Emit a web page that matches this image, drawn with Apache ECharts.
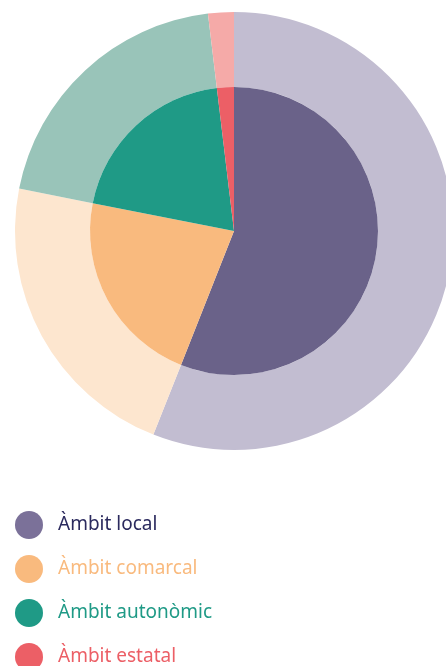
<!DOCTYPE html>
<html>
<head>
<meta charset="utf-8">
<script src="https://cdn.jsdelivr.net/npm/echarts@6/dist/echarts.min.js"></script>
<style>
  html, body { margin: 0; padding: 0; background: #fff; }
  #chart { width: 446px; height: 666px; }
</style>
</head>
<body>
<div id="chart"></div>
<script>
const categories = ['Àmbit local', 'Àmbit comarcal', 'Àmbit autonòmic', 'Àmbit estatal'];
const values = [56, 22.1, 20, 1.9];
const innerColors = ['#6a6289', '#f9ba7e', '#1f9a86', '#ec5f66'];
const outerColors = ['#c2bdd1', '#fde6cf', '#99c4b9', '#f5aaa8'];
const legendIconColors = ['#7b7199', '#f9ba7e', '#1f9a86', '#ec5f66'];
const legendTextColors = ['#2b2a5e', '#f9ba7e', '#1f9a86', '#ec5f66'];

let chart = echarts.init(document.getElementById('chart'));
const option = {
  animation: false,
  legend: {
    orient: 'vertical',
    left: 15,
    top: 511,
    height: 300,
    padding: 0,
    icon: 'circle',
    itemWidth: 28,
    itemHeight: 28,
    itemGap: 16,
    selectedMode: false,
    textStyle: {
      fontFamily: 'Noto Sans',
      fontSize: 19,
      padding: [0, 0, 0, 10]
    },
    data: categories.map((name, i) => ({
      name: name,
      itemStyle: { color: legendIconColors[i] },
      textStyle: { color: legendTextColors[i] }
    }))
  },
  series: [
    {
      type: 'pie',
      center: [234, 231],
      radius: [144, 219],
      label: { show: false },
      labelLine: { show: false },
      silent: true,
      data: categories.map((name, i) => ({
        name: name,
        value: values[i],
        itemStyle: { color: outerColors[i] }
      }))
    },
    {
      type: 'pie',
      center: [234, 231],
      radius: [0, 144],
      label: { show: false },
      labelLine: { show: false },
      silent: true,
      data: categories.map((name, i) => ({
        name: name,
        value: values[i],
        itemStyle: { color: innerColors[i] }
      }))
    }
  ]
};
chart.setOption(option);
</script>
</body>
</html>
